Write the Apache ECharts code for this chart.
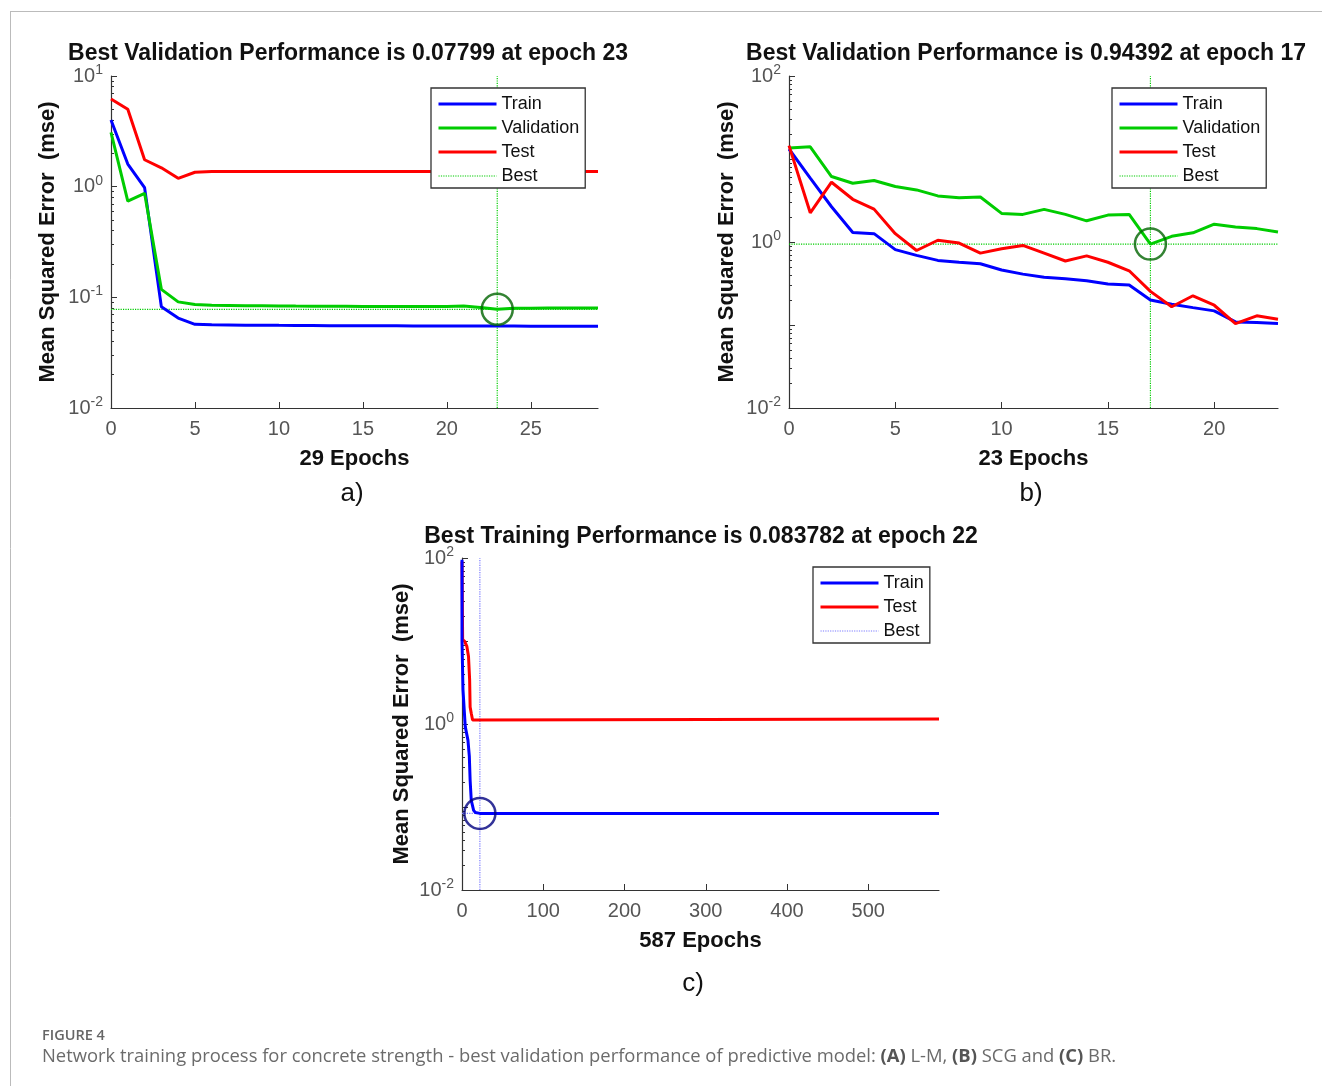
<!DOCTYPE html>
<html>
<head>
<meta charset="utf-8">
<script src="https://cdn.jsdelivr.net/npm/echarts@6/dist/echarts.min.js"></script>
<style>
    html, body { margin: 0; padding: 0; background: #fff; }
    #chart { width: 1322px; height: 1086px; }
</style>
</head>
<body>
<div id="chart"></div>
<script>
    // panel a) L-M, 29 epochs
    var epochsA = [0,1,2,3,4,5,6,7,8,9,10,11,12,13,14,15,16,17,18,19,20,21,22,23,24,25,26,27,28,29];
    var trainA = [4.0, 1.6, 0.98, 0.082, 0.065, 0.057, 0.0565, 0.0563, 0.056, 0.056, 0.0558, 0.0557, 0.0556, 0.0555, 0.0555,
                  0.0554, 0.0553, 0.0553, 0.0552, 0.0552, 0.0551, 0.0551, 0.055, 0.055, 0.055, 0.0549, 0.0549, 0.0548, 0.0548, 0.0548];
    var valA = [3.1, 0.74, 0.87, 0.118, 0.091, 0.086, 0.085, 0.0845, 0.084, 0.0838, 0.0835, 0.0833, 0.0832, 0.083, 0.083,
                0.0828, 0.0828, 0.0827, 0.0826, 0.0826, 0.0828, 0.0835, 0.081, 0.07799, 0.0795, 0.0798, 0.08, 0.08, 0.08, 0.0799];
    var testA = [6.2, 5.0, 1.75, 1.48, 1.19, 1.35, 1.37, 1.37, 1.37, 1.37, 1.37, 1.37, 1.37, 1.37, 1.37,
                 1.37, 1.37, 1.37, 1.37, 1.37, 1.37, 1.37, 1.37, 1.37, 1.37, 1.37, 1.37, 1.37, 1.37, 1.37];
    var bestEpochA = 23, bestPerfA = 0.07799, maxEpochA = 29;

    // panel b) SCG, 23 epochs
    var epochsB = [0,1,2,3,4,5,6,7,8,9,10,11,12,13,14,15,16,17,18,19,20,21,22,23];
    var trainB = [13.2, 5.9, 2.66, 1.30, 1.26, 0.81, 0.69, 0.60, 0.57, 0.546, 0.46, 0.41, 0.376, 0.36, 0.342, 0.312,
                  0.303, 0.20, 0.178, 0.162, 0.148, 0.109, 0.107, 0.104];
    var valB = [13.6, 14.0, 6.15, 5.1, 5.5, 4.66, 4.24, 3.59, 3.42, 3.49, 2.21, 2.15, 2.47, 2.15, 1.80, 2.11,
                2.15, 0.94392, 1.17, 1.29, 1.64, 1.52, 1.45, 1.32];
    var testB = [14.5, 2.25, 5.25, 3.27, 2.49, 1.26, 0.79, 1.05, 0.97, 0.735, 0.83, 0.91, 0.735, 0.59, 0.68, 0.57,
                 0.45, 0.254, 0.166, 0.225, 0.173, 0.104, 0.129, 0.117];
    var bestEpochB = 17, bestPerfB = 0.94392, maxEpochB = 23;

    // panel c) BR, 587 epochs
    var trainEpochsC = [0, 0, 1.2, 4, 7.3, 9, 10, 11.4, 14.3, 16.3, 22, 587];
    var trainC = [95, 10, 2.6, 0.93, 0.64, 0.41, 0.21, 0.12, 0.091, 0.086, 0.083782, 0.083782];
    var testEpochsC = [0, 0.8, 3.3, 6, 8, 9.4, 10, 11.4, 13, 587];
    var testC = [91, 10.4, 9.9, 8.6, 6.5, 3.4, 1.6, 1.35, 1.12, 1.15];
    var bestEpochC = 22, bestPerfC = 0.083782, maxEpochC = 587;

    var titles = [
        'Best Validation Performance is 0.07799 at epoch 23',
        'Best Validation Performance is 0.94392 at epoch 17',
        'Best Training Performance is 0.083782 at epoch 22'
    ];

    var FONT = '"Liberation Sans", Arial, sans-serif';
    var CAPTION_FONT = '"Open Sans", sans-serif';
    var BLUE = '#0000ff', GREEN = '#00cc00', RED = '#ff0000', BEST_C = '#7b7bff';

    function pairs(xs, ys) {
        var out = [];
        for (var i = 0; i < xs.length; i++) out.push([xs[i], ys[i]]);
        return out;
    }

    function xAxisOf(idx, max, interval) {
        return {
            gridIndex: idx, type: 'value', min: 0, max: max, interval: interval,
            name: max + ' Epochs', nameLocation: 'middle', nameGap: 40,
            nameTextStyle: { fontSize: 22, fontWeight: 'bold', color: '#111', fontFamily: FONT },
            axisLine: { lineStyle: { color: '#333', width: 1.2 } },
            axisTick: { inside: true, length: 6, lineStyle: { color: '#333' } },
            axisLabel: { fontSize: 20, color: '#555', margin: 11, showMaxLabel: false, fontFamily: FONT },
            splitLine: { show: false }
        };
    }

    // labelStep: label every n-th decade (MATLAB shows 10^-2, 10^0, 10^2 on the taller ranges)
    function yAxisOf(idx, max, labelStep, gap) {
        return {
            gridIndex: idx, type: 'log', logBase: 10, min: 0.01, max: max, interval: 1,
            name: 'Mean Squared Error  (mse)', nameLocation: 'middle', nameGap: gap,
            nameTextStyle: { fontSize: 22, fontWeight: 'bold', color: '#111', fontFamily: FONT },
            axisLine: { show: true, lineStyle: { color: '#333', width: 1.2 } },
            axisTick: { show: true, inside: true, length: 6, lineStyle: { color: '#333' } },
            minorTick: { show: true, splitNumber: 9, length: 3, lineStyle: { color: '#333' } },
            axisLabel: {
                margin: 8,
                formatter: function (v) {
                    var e = Math.round(Math.log10(v));
                    if (e % labelStep !== 0) return '';
                    return '{b|10}{s|' + e + '}';
                },
                rich: {
                    b: { fontSize: 20, color: '#555', fontFamily: FONT },
                    s: { fontSize: 14, color: '#555', fontFamily: FONT, padding: [0, 0, 12, 0] }
                }
            },
            splitLine: { show: false }
        };
    }

    function lineSeries(name, idx, data, color) {
        return {
            type: 'line', name: name, xAxisIndex: idx, yAxisIndex: idx,
            data: data, symbol: 'none', color: color, z: 3, silent: true,
            lineStyle: { color: color, width: 3 }
        };
    }

    function bestSeries(idx, epoch, perf, maxEpoch, yMax, color) {
        var style = { color: color, width: 1.2, type: 'dotted' };
        return [
            { type: 'line', name: 'Best', xAxisIndex: idx, yAxisIndex: idx, symbol: 'none', color: color,
              z: 2, silent: true, lineStyle: style, data: [[epoch, 0.01], [epoch, yMax]] },
            { type: 'line', name: 'Best', xAxisIndex: idx, yAxisIndex: idx, symbol: 'none', color: color,
              z: 2, silent: true, lineStyle: style, data: [[0, perf], [maxEpoch, perf]] }
        ];
    }

    function circleSeries(idx, epoch, perf, color) {
        return {
            type: 'scatter', name: 'circle' + idx, xAxisIndex: idx, yAxisIndex: idx,
            symbol: 'circle', symbolSize: 31, z: 5, silent: true,
            itemStyle: { color: 'rgba(0,0,0,0)', borderColor: color, borderWidth: 2.5 },
            data: [[epoch, perf]]
        };
    }

    function bestItem(color) {
        return { name: 'Best', itemStyle: { color: color, opacity: 0 },
                 lineStyle: { color: color, type: 'dotted', width: 1.2 } };
    }

    function legendOf(left, top, items) {
        return {
            orient: 'vertical', left: left, top: top, padding: [7, 6, 3, 6],
            itemWidth: 58, itemHeight: 14, itemGap: 6,
            backgroundColor: '#fff', borderColor: '#333', borderWidth: 1.3, borderRadius: 0,
            itemStyle: { opacity: 0 },   // hide the marker, keep only the line sample
            lineStyle: { width: 3 },
            textStyle: { fontSize: 18, color: '#111', fontFamily: FONT },
            selectedMode: false, data: items
        };
    }

    var chart = echarts.init(document.getElementById('chart'));

    var series = [];
    series = series.concat(bestSeries(0, bestEpochA, bestPerfA, maxEpochA, 10, GREEN));
    series.push(lineSeries('Train', 0, pairs(epochsA, trainA), BLUE));
    series.push(lineSeries('Validation', 0, pairs(epochsA, valA), GREEN));
    series.push(lineSeries('Test', 0, pairs(epochsA, testA), RED));
    series.push(circleSeries(0, bestEpochA, bestPerfA, '#006400'));

    series = series.concat(bestSeries(1, bestEpochB, bestPerfB, maxEpochB, 100, GREEN));
    series.push(lineSeries('Train', 1, pairs(epochsB, trainB), BLUE));
    series.push(lineSeries('Validation', 1, pairs(epochsB, valB), GREEN));
    series.push(lineSeries('Test', 1, pairs(epochsB, testB), RED));
    series.push(circleSeries(1, bestEpochB, bestPerfB, '#006400'));

    series = series.concat(bestSeries(2, bestEpochC, bestPerfC, maxEpochC, 100, BEST_C));
    series.push(lineSeries('Test', 2, pairs(testEpochsC, testC), RED));
    series.push(lineSeries('Train', 2, pairs(trainEpochsC, trainC), BLUE));
    series.push(circleSeries(2, bestEpochC, bestPerfC, '#000080'));

    function txt(x, y, text, size, weight) {
        return {
            type: 'text', x: x, y: y, z: 10, silent: true,
            style: { text: text, fontSize: size, fontWeight: weight || 'normal', fill: '#111',
                     fontFamily: FONT, align: 'center', verticalAlign: 'middle' }
        };
    }

    chart.setOption({
        animation: false,
        backgroundColor: '#fff',
        textStyle: { fontFamily: FONT },
        grid: [
            { left: 111, top: 76, width: 487, height: 332 },
            { left: 789, top: 76, width: 489, height: 332 },
            { left: 462, top: 558, width: 477, height: 332 }
        ],
        xAxis: [xAxisOf(0, maxEpochA, 5), xAxisOf(1, maxEpochB, 5), xAxisOf(2, maxEpochC, 100)],
        yAxis: [yAxisOf(0, 10, 1, 52), yAxisOf(1, 100, 2, 51), yAxisOf(2, 100, 2, 49)],
        legend: [
            legendOf(431, 88, ['Train', 'Validation', 'Test', bestItem(GREEN)]),
            legendOf(1112, 88, ['Train', 'Validation', 'Test', bestItem(GREEN)]),
            legendOf(813, 567, ['Train', 'Test', bestItem(BEST_C)])
        ],
        series: series,
        graphic: [
            { type: 'line', silent: true, shape: { x1: 10, y1: 11.5, x2: 1322, y2: 11.5 }, style: { stroke: '#bbb', lineWidth: 1 } },
            { type: 'line', silent: true, shape: { x1: 10.5, y1: 11, x2: 10.5, y2: 1086 }, style: { stroke: '#bbb', lineWidth: 1 } },
            txt(348, 54, titles[0], 23, 'bold'),
            txt(1026, 54, titles[1], 23, 'bold'),
            txt(701, 537, titles[2], 23, 'bold'),
            txt(352, 494, 'a)', 26),
            txt(1031, 494, 'b)', 26),
            txt(693, 984, 'c)', 26),
            {
                type: 'text', x: 42, y: 1036, silent: true,
                style: { text: 'FIGURE 4', fontSize: 14.5, fontWeight: 600, fill: '#666',
                         fontFamily: CAPTION_FONT, verticalAlign: 'middle' }
            },
            {
                type: 'text', x: 42, y: 1057, silent: true,
                style: {
                    text: 'Network training process for concrete strength - best validation performance of predictive model: {b|(A)} L-M, {b|(B)} SCG and {b|(C)} BR.',
                    fontSize: 18.4, fill: '#6b6b6b', fontFamily: CAPTION_FONT, verticalAlign: 'middle',
                    rich: { b: { fontSize: 18.4, fontWeight: 'bold', fill: '#555', fontFamily: CAPTION_FONT } }
                }
            }
        ]
    });
</script>
</body>
</html>
